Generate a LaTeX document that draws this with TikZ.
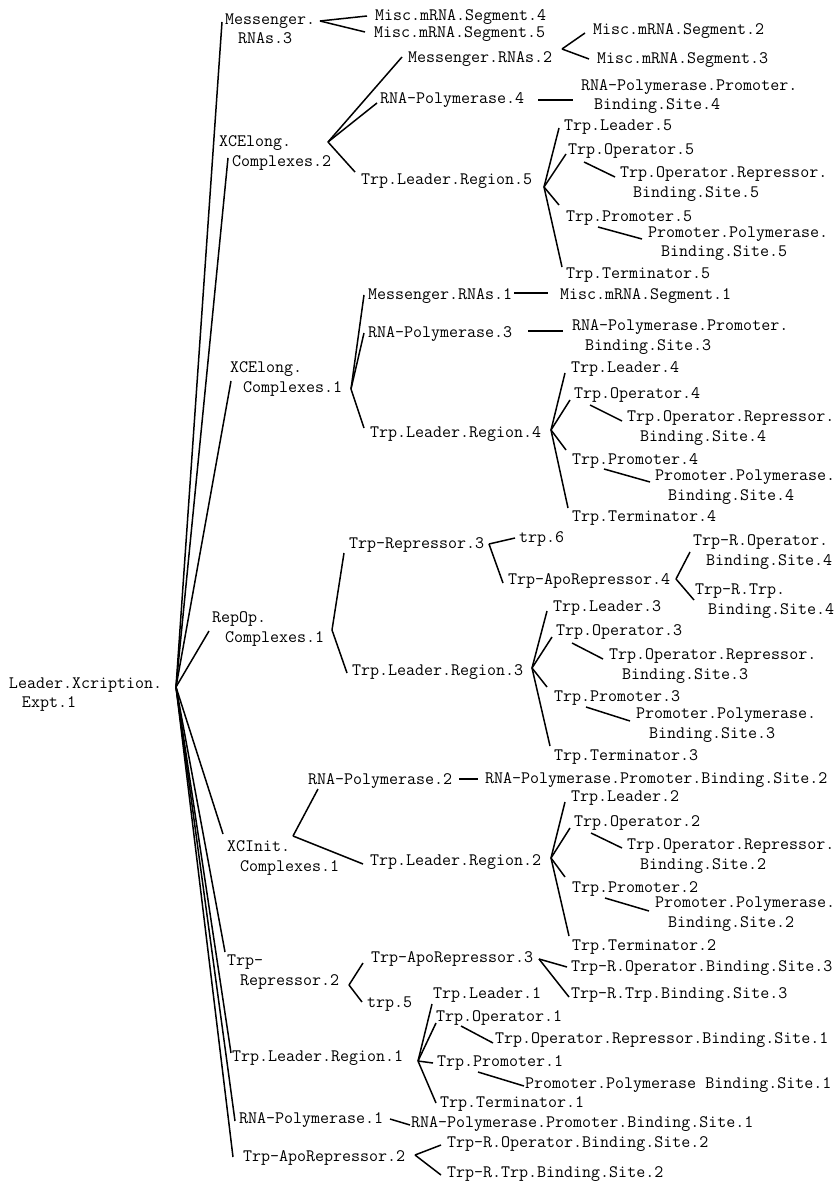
\documentclass[tikz,border=0pt]{standalone}
\usepackage{fontspec}
\newcommand\twoline[2]{\vtop{\baselineskip=19.5pt\hbox{#1}\hbox{\hspace*{13pt}#2}}}
\tikzset{
  lbl/.style={anchor=base west, inner sep=0pt, outer sep=0pt, font=\ttfamily\fontsize{17.5}{19.5}\selectfont},
  conn/.style={line width=1.5pt, black}
}
\begin{document}
\begin{tikzpicture}[x=1pt,y=-1pt]
\useasboundingbox[fill=white] (0,0) rectangle (839,1182);
% ---------- labels ----------
\node[lbl] (root) at (9,688) {\twoline{Leader.Xcription.}{Expt.1}};
\node[lbl] (mr3) at (225,24.5) {\twoline{Messenger.}{RNAs.3}};
\node[lbl] (ms4) at (375,20.5) {Misc.mRNA.Segment.4};
\node[lbl] (ms5) at (374,37.5) {Misc.mRNA.Segment.5};
\node[lbl] (xe2) at (219,147) {\twoline{XCElong.}{Complexes.2}};
\node[lbl] (mr2) at (408,63) {Messenger.RNAs.2};
\node[lbl] (ms2) at (593,34.5) {Misc.mRNA.Segment.2};
\node[lbl] (ms3) at (597,64) {Misc.mRNA.Segment.3};
\node[lbl] (rp4) at (380,104) {RNA-Polymerase.4};
\node[lbl] (rpb4) at (581,90.5) {\twoline{RNA-Polymerase.Promoter.}{Binding.Site.4}};
\node[lbl] (tlr5) at (361,185) {Trp.Leader.Region.5};
\node[lbl] (tl5) at (564,130.5) {Trp.Leader.5};
\node[lbl] (to5) at (568,154.5) {Trp.Operator.5};
\node[lbl] (tor5) at (620,178) {\twoline{Trp.Operator.Repressor.}{Binding.Site.5}};
\node[lbl] (tp5) at (566,222) {Trp.Promoter.5};
\node[lbl] (ppb5) at (648,237) {\twoline{Promoter.Polymerase.}{Binding.Site.5}};
\node[lbl] (tt5) at (566,278.5) {Trp.Terminator.5};
\node[lbl] (xe1) at (230,372.5) {\twoline{XCElong.}{Complexes.1}};
\node[lbl] (mr1) at (368,299.5) {Messenger.RNAs.1};
\node[lbl] (ms1) at (560,299.5) {Misc.mRNA.Segment.1};
\node[lbl] (rp3) at (368,337.5) {RNA-Polymerase.3};
\node[lbl] (rpb3) at (572,330.5) {\twoline{RNA-Polymerase.Promoter.}{Binding.Site.3}};
\node[lbl] (tlr4) at (370,437.5) {Trp.Leader.Region.4};
\node[lbl] (tl4) at (571,372.5) {Trp.Leader.4};
\node[lbl] (to4) at (574,398.5) {Trp.Operator.4};
\node[lbl] (tor4) at (627,421.5) {\twoline{Trp.Operator.Repressor.}{Binding.Site.4}};
\node[lbl] (tp4) at (572,464.5) {Trp.Promoter.4};
\node[lbl] (ppb4) at (655,480.5) {\twoline{Promoter.Polymerase.}{Binding.Site.4}};
\node[lbl] (tt4) at (572,521.5) {Trp.Terminator.4};
\node[lbl] (rop) at (212,622.5) {\twoline{RepOp.}{Complexes.1}};
\node[lbl] (tr3) at (349,548.5) {Trp-Repressor.3};
\node[lbl] (trp6) at (519,542.5) {trp.6};
\node[lbl] (tar4) at (508,584.5) {Trp-ApoRepressor.4};
\node[lbl] (tro4) at (693,545.5) {\twoline{Trp-R.Operator.}{Binding.Site.4}};
\node[lbl] (trt4) at (695,594.5) {\twoline{Trp-R.Trp.}{Binding.Site.4}};
\node[lbl] (tlr3) at (352,675.5) {Trp.Leader.Region.3};
\node[lbl] (tl3) at (553,611.5) {Trp.Leader.3};
\node[lbl] (to3) at (556,635.5) {Trp.Operator.3};
\node[lbl] (tor3) at (609,659.5) {\twoline{Trp.Operator.Repressor.}{Binding.Site.3}};
\node[lbl] (tp3) at (554,701.5) {Trp.Promoter.3};
\node[lbl] (ppb3) at (636,718.5) {\twoline{Promoter.Polymerase.}{Binding.Site.3}};
\node[lbl] (tt3) at (554,760.5) {Trp.Terminator.3};
\node[lbl] (xci) at (227,851.5) {\twoline{XCInit.}{Complexes.1}};
\node[lbl] (rp2) at (308,784.5) {RNA-Polymerase.2};
\node[lbl] (rpb2) at (485,783.5) {RNA-Polymerase.Promoter.Binding.Site.2};
\node[lbl] (tlr2) at (370,865.5) {Trp.Leader.Region.2};
\node[lbl] (tl2) at (571,801.5) {Trp.Leader.2};
\node[lbl] (to2) at (574,826.5) {Trp.Operator.2};
\node[lbl] (tor2) at (627,849.5) {\twoline{Trp.Operator.Repressor.}{Binding.Site.2}};
\node[lbl] (tp2) at (572,892.5) {Trp.Promoter.2};
\node[lbl] (ppb2) at (655,907.5) {\twoline{Promoter.Polymerase.}{Binding.Site.2}};
\node[lbl] (tt2) at (572,950.5) {Trp.Terminator.2};
\node[lbl] (trr2) at (227,965.5) {\twoline{Trp-}{Repressor.2}};
\node[lbl] (tar3) at (371,962.5) {Trp-ApoRepressor.3};
\node[lbl] (tro3) at (571,971.5) {Trp-R.Operator.Binding.Site.3};
\node[lbl] (trt3) at (571,998.5) {Trp-R.Trp.Binding.Site.3};
\node[lbl] (trp5) at (367,1007.5) {trp.5};
\node[lbl] (tlr1) at (232,1061.5) {Trp.Leader.Region.1};
\node[lbl] (tl1) at (433,998.5) {Trp.Leader.1};
\node[lbl] (to1) at (436,1021.5) {Trp.Operator.1};
\node[lbl] (tor1) at (495,1043.5) {Trp.Operator.Repressor.Binding.Site.1};
\node[lbl] (tp1) at (437,1066.5) {Trp.Promoter.1};
\node[lbl] (ppb1) at (525,1088.5) {Promoter.Polymerase Binding.Site.1};
\node[lbl] (tt1) at (440,1107.5) {Trp.Terminator.1};
\node[lbl] (rp1) at (239,1123.5) {RNA-Polymerase.1};
\node[lbl] (rpb1) at (411,1127.5) {RNA-Polymerase.Promoter.Binding.Site.1};
\node[lbl] (tar2) at (243,1161.5) {Trp-ApoRepressor.2};
\node[lbl] (tro2) at (447,1147.5) {Trp-R.Operator.Binding.Site.2};
\node[lbl] (trt2) at (447,1177.5) {Trp-R.Trp.Binding.Site.2};
% ---------- junctions and attach points ----------
\coordinate (root-j) at (176,687);
\coordinate (mr3-a) at (222,22);   \coordinate (mr3-j) at (320,21);
\coordinate (ms4-a) at (367,16);   \coordinate (ms5-a) at (365,32);
\coordinate (xe2-a) at (228,158);  \coordinate (xe2-j) at (328,142);
\coordinate (mr2-a) at (402,57);   \coordinate (mr2-j) at (562,49);
\coordinate (ms2-a) at (585,33);   \coordinate (ms3-a) at (589,59);
\coordinate (rp4-a) at (377,103);  \coordinate (rp4-o) at (538,100);
\coordinate (rpb4-a) at (573,100);
\coordinate (tlr5-a) at (355,172); \coordinate (tlr5-j) at (544,187);
\coordinate (tl5-a) at (559,128);
\coordinate (to5-a) at (566,154);  \coordinate (to5-o) at (584,162);
\coordinate (tor5-a) at (615,177);
\coordinate (tp5-a) at (559,205);  \coordinate (tp5-o) at (598,227);
\coordinate (ppb5-a) at (642,239);
\coordinate (tt5-a) at (562,267);
\coordinate (xe1-a) at (231,381);  \coordinate (xe1-j) at (351,389);
\coordinate (mr1-a) at (364,295);  \coordinate (mr1-o) at (514,293);
\coordinate (ms1-a) at (548,293);
\coordinate (rp3-a) at (364,333);  \coordinate (rp3-o) at (528,331);
\coordinate (rpb3-a) at (563,331);
\coordinate (tlr4-a) at (364,428); \coordinate (tlr4-j) at (551,430);
\coordinate (tl4-a) at (565,373);
\coordinate (to4-a) at (570,400);  \coordinate (to4-o) at (590,405);
\coordinate (tor4-a) at (622,421);
\coordinate (tp4-a) at (566,450);  \coordinate (tp4-o) at (604,469);
\coordinate (ppb4-a) at (650,482);
\coordinate (tt4-a) at (568,508);
\coordinate (rop-a) at (209,631);  \coordinate (rop-j) at (332,630);
\coordinate (tr3-a) at (344,553);  \coordinate (tr3-j) at (489,544);
\coordinate (trp6-a) at (515,538);
\coordinate (tar4-a) at (503,583); \coordinate (tar4-j) at (676,579);
\coordinate (tro4-a) at (690,552); \coordinate (trt4-a) at (694,600);
\coordinate (tlr3-a) at (347,673); \coordinate (tlr3-j) at (532,668);
\coordinate (tl3-a) at (547,611);
\coordinate (to3-a) at (552,637);  \coordinate (to3-o) at (572,643);
\coordinate (tor3-a) at (603,659);
\coordinate (tp3-a) at (547,687);  \coordinate (tp3-o) at (586,707);
\coordinate (ppb3-a) at (630,721);
\coordinate (tt3-a) at (550,746);
\coordinate (xci-a) at (223,834);  \coordinate (xci-j) at (293,836);
\coordinate (rp2-a) at (318,789);  \coordinate (rp2-o) at (459,779);
\coordinate (rpb2-a) at (478,779);
\coordinate (tlr2-a) at (363,864); \coordinate (tlr2-j) at (551,858);
\coordinate (tl2-a) at (565,802);
\coordinate (to2-a) at (570,828);  \coordinate (to2-o) at (591,833);
\coordinate (tor2-a) at (622,848);
\coordinate (tp2-a) at (565,877);  \coordinate (tp2-o) at (605,898);
\coordinate (ppb2-a) at (649,911);
\coordinate (tt2-a) at (569,936);
\coordinate (trr2-a) at (225,952); \coordinate (trr2-j) at (349,985);
\coordinate (tar3-a) at (363,963); \coordinate (tar3-j) at (539,959);
\coordinate (tro3-a) at (567,967); \coordinate (trt3-a) at (569,997);
\coordinate (trp5-a) at (362,1002);
\coordinate (tlr1-a) at (231,1053); \coordinate (tlr1-j) at (418,1061);
\coordinate (tl1-a) at (432,1004);
\coordinate (to1-a) at (436,1023); \coordinate (to1-o) at (461,1026);
\coordinate (tor1-a) at (493,1043);
\coordinate (tp1-a) at (433,1063); \coordinate (tp1-o) at (478,1072);
\coordinate (ppb1-a) at (524,1086);
\coordinate (tt1-a) at (436,1103);
\coordinate (rp1-a) at (235,1121); \coordinate (rp1-o) at (390,1119);
\coordinate (rpb1-a) at (410,1125);
\coordinate (tar2-a) at (233,1157); \coordinate (tar2-j) at (415,1155);
\coordinate (tro2-a) at (441,1145); \coordinate (trt2-a) at (441,1175);
% ---------- connectors ----------
\foreach \c in {mr3,xe2,xe1,rop,xci,trr2,tlr1,rp1,tar2}
  \draw[conn] (root-j) -- (\c-a);
\foreach \c in {ms4,ms5} \draw[conn] (mr3-j) -- (\c-a);
\foreach \c in {mr2,rp4,tlr5} \draw[conn] (xe2-j) -- (\c-a);
\foreach \c in {ms2,ms3} \draw[conn] (mr2-j) -- (\c-a);
\draw[conn] (rp4-o) -- (rpb4-a);
\foreach \c in {tl5,to5,tp5,tt5} \draw[conn] (tlr5-j) -- (\c-a);
\draw[conn] (to5-o) -- (tor5-a);
\draw[conn] (tp5-o) -- (ppb5-a);
\foreach \c in {mr1,rp3,tlr4} \draw[conn] (xe1-j) -- (\c-a);
\draw[conn] (mr1-o) -- (ms1-a);
\draw[conn] (rp3-o) -- (rpb3-a);
\foreach \c in {tl4,to4,tp4,tt4} \draw[conn] (tlr4-j) -- (\c-a);
\draw[conn] (to4-o) -- (tor4-a);
\draw[conn] (tp4-o) -- (ppb4-a);
\foreach \c in {tr3,tlr3} \draw[conn] (rop-j) -- (\c-a);
\foreach \c in {trp6,tar4} \draw[conn] (tr3-j) -- (\c-a);
\foreach \c in {tro4,trt4} \draw[conn] (tar4-j) -- (\c-a);
\foreach \c in {tl3,to3,tp3,tt3} \draw[conn] (tlr3-j) -- (\c-a);
\draw[conn] (to3-o) -- (tor3-a);
\draw[conn] (tp3-o) -- (ppb3-a);
\foreach \c in {rp2,tlr2} \draw[conn] (xci-j) -- (\c-a);
\draw[conn] (rp2-o) -- (rpb2-a);
\foreach \c in {tl2,to2,tp2,tt2} \draw[conn] (tlr2-j) -- (\c-a);
\draw[conn] (to2-o) -- (tor2-a);
\draw[conn] (tp2-o) -- (ppb2-a);
\foreach \c in {tar3,trp5} \draw[conn] (trr2-j) -- (\c-a);
\foreach \c in {tro3,trt3} \draw[conn] (tar3-j) -- (\c-a);
\foreach \c in {tl1,to1,tp1,tt1} \draw[conn] (tlr1-j) -- (\c-a);
\draw[conn] (to1-o) -- (tor1-a);
\draw[conn] (tp1-o) -- (ppb1-a);
\draw[conn] (rp1-o) -- (rpb1-a);
\foreach \c in {tro2,trt2} \draw[conn] (tar2-j) -- (\c-a);
\end{tikzpicture}
\end{document}
